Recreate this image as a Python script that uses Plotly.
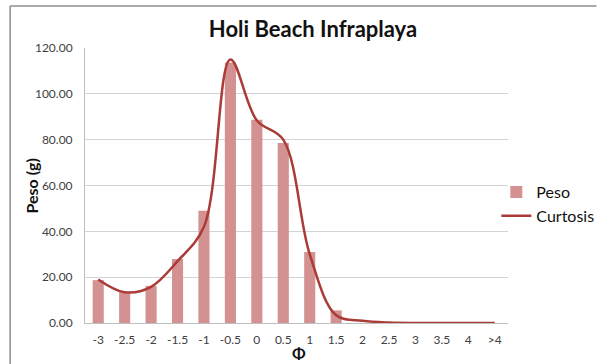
import plotly.graph_objects as go

# Grain size classes (phi) and measured weights
phi = ["-3", "-2.5", "-2", "-1.5", "-1", "-0.5", "0", "0.5", "1", "1.5",
       "2", "2.5", "3", "3.5", "4", ">4"]
peso = [18.7, 13.5, 16.2, 27.9, 49.0, 113.7, 88.7, 78.5, 31.0, 5.5,
        0, 0, 0, 0, 0, 0]
curtosis = [19.0, 13.4, 15.8, 27.0, 42.0, 115.0, 88.4, 80.0, 30.0, 3.4,
            1.0, 0.2, 0, 0, 0, 0]
yticks = [0, 20, 40, 60, 80, 100, 120]

W, H = 611, 364
L, T, R, B = 85, 48, 520, 323   # plot area in pixels
pw, ph = R - L, B - T

fig = go.Figure()

fig.add_trace(go.Bar(
    x=phi, y=peso, name="Peso",
    marker=dict(color="#D39191", line=dict(width=0)),
))

fig.add_trace(go.Scatter(
    x=phi, y=curtosis, name="Curtosis", mode="lines",
    line=dict(color="#AA3B37", width=2.5, shape="spline", smoothing=1.0),
))

# outer chart frame: only its top and left edges show in the picture
frame = dict(xref="paper", yref="paper", line=dict(color="#8c8c8c", width=1.5))
fig.add_shape(type="line", x0=(8 - L) / pw, x1=(W - L) / pw,
              y0=1 + (T - 6) / ph, y1=1 + (T - 6) / ph, **frame)
fig.add_shape(type="line", x0=(8 - L) / pw, x1=(8 - L) / pw,
              y0=(B - H) / ph, y1=1 + (T - 6) / ph, **frame)

# axis titles as annotations for exact placement
fig.add_annotation(
    text="<b>Φ</b>", xref="paper", yref="paper",
    x=(305 - L) / pw, y=(B - 352) / ph, xanchor="center", yanchor="middle",
    showarrow=False, font=dict(size=16, color="#111"),
)
fig.add_annotation(
    text="<b>Peso (g)</b>", xref="paper", yref="paper", textangle=-90,
    x=(29 - L) / pw, y=(B - 186) / ph, xanchor="center", yanchor="middle",
    showarrow=False, font=dict(size=16, color="#111"),
)

fig.update_layout(
    width=W, height=H,
    margin=dict(l=L, r=W - R, t=T, b=H - B),
    paper_bgcolor="white", plot_bgcolor="white",
    font=dict(family="Lato, 'Open Sans', sans-serif", color="#222"),
    title=dict(text="<b>Holi Beach Infraplaya</b>", x=313 / W, xanchor="center",
               y=1 - 22 / H, yanchor="top",
               font=dict(size=22, color="#111")),
    bargap=0.58,
    showlegend=True,
    legend=dict(x=(508 - L) / pw, xanchor="left", y=(B - 204) / ph, yanchor="middle",
                font=dict(size=16, color="#111"),
                itemwidth=30, bgcolor="rgba(0,0,0,0)"),
    xaxis=dict(
        type="category", tickfont=dict(size=12, color="#404040"),
        showline=True, linecolor="#bfbfbf", linewidth=1,
        ticks="outside", ticklen=6, tickcolor="white", showgrid=False,
    ),
    yaxis=dict(
        range=[0, 120], tickvals=yticks,
        ticktext=[f"{v:.2f}" for v in yticks],
        tickfont=dict(size=12, color="#404040"),
        showgrid=True, gridcolor="#d4d4d4", gridwidth=1,
        showline=True, linecolor="#bfbfbf", linewidth=1,
        ticks="outside", ticklen=9, tickcolor="white",
        zeroline=False,
    ),
)

# drop the browser's default page margin so the figure sits at (0, 0)
fig.write_html("out.html", config={"displayModeBar": False},
               post_script="document.body.style.margin='0';")
